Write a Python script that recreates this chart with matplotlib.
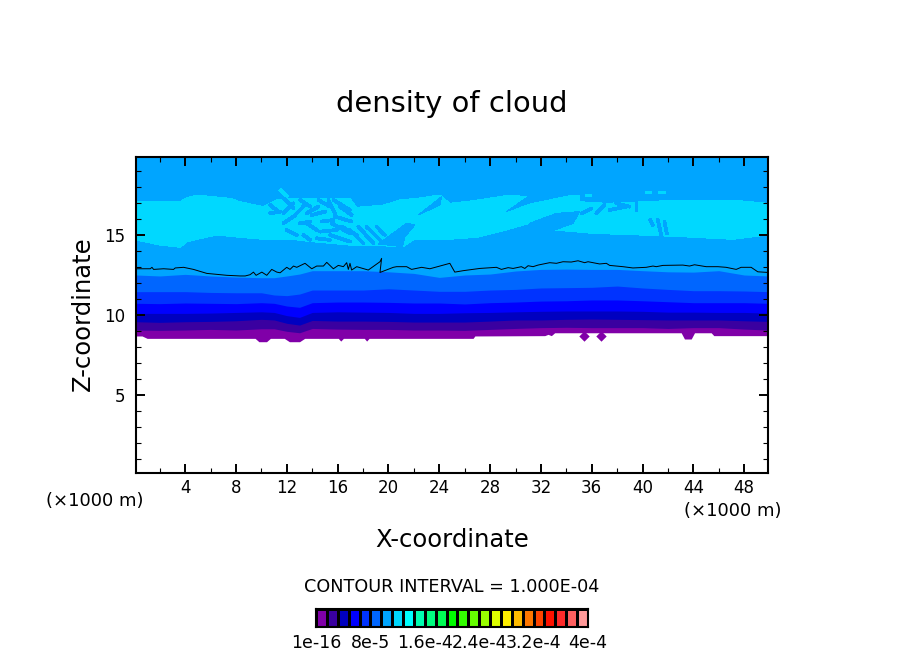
import matplotlib
matplotlib.use('Agg')
import matplotlib.pyplot as plt
from matplotlib.colors import ListedColormap

# stations for the band tops (km)
band_x = [0.125, 2, 4, 6, 8, 10, 11, 12, 13, 14, 16, 18, 20, 22, 24, 26, 28, 30, 32, 34, 36, 38, 40, 42, 44, 46, 48, 49.875]

top_purple = [9.06, 9.04, 9.06, 9.10, 9.06, 9.14, 9.14, 8.98, 8.89, 9.16, 9.12, 9.10, 9.10, 9.06,
              9.06, 9.04, 9.10, 9.16, 9.21, 9.23, 9.21, 9.21, 9.21, 9.16, 9.21, 9.21, 9.12, 9.06]
top_violet = [9.58, 9.54, 9.58, 9.60, 9.64, 9.73, 9.69, 9.48, 9.37, 9.66, 9.62, 9.62, 9.60, 9.56,
              9.56, 9.56, 9.62, 9.69, 9.69, 9.73, 9.75, 9.73, 9.71, 9.69, 9.69, 9.69, 9.64, 9.60]
top_navy = [10.10, 10.10, 10.10, 10.12, 10.16, 10.20, 10.16, 9.96, 9.85, 10.16, 10.20, 10.18, 10.16, 10.10,
            10.10, 10.14, 10.16, 10.20, 10.23, 10.25, 10.25, 10.25, 10.23, 10.18, 10.18, 10.16, 10.16, 10.12]
top_blue = [10.73, 10.71, 10.75, 10.73, 10.71, 10.77, 10.73, 10.56, 10.48, 10.77, 10.81, 10.81, 10.79, 10.75,
            10.75, 10.69, 10.77, 10.81, 10.87, 10.89, 10.94, 10.94, 10.89, 10.83, 10.77, 10.77, 10.77, 10.73]
top_blue2 = [11.46, 11.46, 11.46, 11.41, 11.39, 11.39, 11.25, 11.21, 11.31, 11.56, 11.56, 11.56, 11.64, 11.56,
             11.48, 11.48, 11.56, 11.60, 11.69, 11.71, 11.73, 11.81, 11.69, 11.60, 11.52, 11.52, 11.50, 11.46]
top_blue3 = [12.50, 12.44, 12.54, 12.44, 12.37, 12.33, 12.33, 12.44, 12.56, 12.77, 12.77, 12.77, 12.70, 12.60,
             12.35, 12.50, 12.56, 12.75, 12.85, 12.87, 12.85, 12.85, 12.77, 12.70, 12.68, 12.77, 12.50, 12.44]

# lower edge of the cloud (white below)
base_x = [0.125, 0.6, 1.0, 9.5, 9.8, 10.4, 10.7, 11.8, 12.2, 13.0, 13.4, 16.05, 16.24, 16.45, 18.10, 18.28, 18.47,
          26.66, 26.8, 32.30, 32.56, 32.82, 33.08, 43.04, 43.30, 43.83, 44.09, 45.40, 45.61, 49.875]
base_z = [8.69, 8.69, 8.54, 8.54, 8.33, 8.33, 8.54, 8.54, 8.33, 8.33, 8.54, 8.54, 8.37, 8.54, 8.54, 8.37, 8.54,
          8.54, 8.69, 8.71, 8.79, 8.71, 8.89, 8.89, 8.50, 8.50, 8.89, 8.89, 8.71, 8.71]
blob_x = [35.36, 36.75]
blob_z = [8.70, 8.70]

# cyan layer edges
cyan_top_x = [0.125, 3.61, 4.0, 4.92, 7.54, 8.32, 10.16, 11.21, 12.25, 16.97, 17.50, 19.59, 20.90, 22.21, 24.05,
              24.83, 26.66, 29.55, 30.86, 31.38, 34.53, 35.05, 35.06, 37.15, 42.91, 47.10, 49.875]
cyan_top_z = [17.08, 17.08, 17.29, 17.50, 17.29, 17.08, 16.77, 17.19, 17.29, 17.29, 16.73, 16.87, 17.19, 17.29, 17.50,
              16.98, 17.14, 17.50, 17.39, 16.98, 17.50, 17.50, 17.08, 16.98, 17.18, 17.18, 16.98]
cyan_bot_x = [0.125, 2.0, 3.61, 4.13, 6.49, 8.32, 10.16, 12.78, 13.96, 15.40, 17.50, 19.33, 21.16, 21.95, 24.05,
              26.93, 29.28, 31.12, 32.5, 33.08, 36.10, 39.77, 42.91, 47.10, 49.875]
cyan_bot_z = [14.69, 14.37, 14.23, 14.58, 15.0, 14.85, 14.73, 14.69, 14.58, 14.48, 14.33, 14.33, 14.27, 14.69, 14.69,
              14.85, 15.31, 15.73, 15.45, 15.31, 15.10, 15.0, 14.90, 14.73, 15.0]

# sky coloured gaps in the cyan layer
gap_polys = [
    ([31.12, 33.21, 35.05, 34.52, 33.08], [15.73, 16.35, 16.46, 15.73, 15.31]),
    ([29.28, 30.91, 31.64, 30.59], [16.46, 17.35, 17.14, 16.87]),
    ([19.20, 21.43, 22.08, 21.30, 21.11], [14.44, 15.73, 15.63, 14.90, 14.27]),
    ([22.34, 24.18, 24.05], [16.25, 17.39, 16.87]),
]
gap_x0 = [11.73, 12.52, 13.56, 10.68, 11.73, 13.04, 13.96, 14.74, 15.53, 15.79, 16.19, 15.66, 16.97, 17.63, 18.28, 19.07,
          14.61, 15.40, 13.30, 10.68, 35.18, 36.36, 37.40, 37.93, 39.50, 41.20, 41.73, 40.60,
          11.73, 13.04, 14.48, 15.27, 13.56, 11.99, 14.35, 16.32]
gap_z0 = [16.36, 16.15, 16.36, 16.36, 15.73, 15.73, 16.25, 15.84, 15.73, 16.15, 16.77, 17.19, 15.31, 15.52, 15.52, 15.52,
          15.21, 15.0, 15.0, 16.88, 16.35, 16.35, 16.56, 16.98, 17.19, 15.94, 15.83, 15.94,
          17.29, 17.19, 17.19, 17.19, 15.73, 15.31, 14.79, 15.52]
gap_x1 = [12.52, 13.43, 14.48, 11.47, 12.52, 13.83, 15.01, 15.66, 16.97, 17.10, 17.10, 16.97, 18.02, 18.81, 19.33, 19.72,
          15.92, 16.97, 13.83, 11.34, 35.96, 37.01, 38.71, 38.98, 39.50, 41.47, 41.91, 40.81,
          12.52, 13.83, 15.40, 15.79, 14.35, 12.78, 15.40, 17.50]
gap_z1 = [16.98, 16.88, 16.77, 16.46, 16.15, 15.84, 16.46, 15.94, 15.11, 15.84, 16.25, 16.56, 14.48, 14.48, 14.69, 15.0,
          15.31, 14.59, 14.69, 16.46, 16.66, 16.87, 16.77, 16.77, 16.56, 15.0, 15.10, 15.62,
          16.67, 16.77, 16.77, 16.36, 15.31, 15.0, 14.69, 15.0]

# stray cyan bits above the layer
bit_x0 = [11.52, 35.57, 40.24, 41.26]
bit_z0 = [17.81, 17.50, 17.66, 17.66]
bit_x1 = [11.99, 35.88, 40.60, 41.65]
bit_z1 = [17.44, 17.50, 17.66, 17.66]

# the single black contour
line_x = [0.125, 1.25, 1.38, 1.51, 2.30, 3.08, 3.21, 3.87, 4.65, 5.70, 7.28, 8.32, 8.72, 9.11, 9.37, 9.58, 10.03, 10.42,
          10.81, 11.21, 11.47, 11.99, 12.25, 12.52, 12.78, 13.43, 13.96, 14.35, 14.88, 15.14, 15.66, 16.05, 16.45, 16.71,
          16.84, 16.97, 17.10, 17.50, 18.41, 19.33, 19.46, 19.33, 20.38, 20.64, 21.43, 21.82, 22.61, 23.26, 24.05, 24.83,
          25.22, 25.88, 27.19, 28.50, 28.89, 29.42, 29.81, 30.46, 30.73, 30.99, 31.38, 31.77, 32.69, 33.22, 33.74, 34.39,
          34.92, 35.44, 35.71, 36.62, 37.15, 37.41, 38.46, 39.24, 40.29, 40.82, 41.08, 41.60, 43.17, 43.70, 44.09, 45.01,
          45.93, 46.58, 47.37, 47.76, 48.55, 49.07, 49.875]
line_z = [12.89, 12.89, 12.98, 12.85, 12.89, 12.85, 12.94, 12.98, 12.85, 12.60, 12.48, 12.44, 12.44, 12.52, 12.68, 12.48,
          12.68, 12.48, 12.85, 12.68, 12.64, 12.98, 12.85, 13.06, 12.98, 13.23, 12.89, 13.06, 13.06, 13.29, 12.89, 13.10,
          13.02, 13.27, 12.85, 13.23, 12.81, 13.02, 12.81, 13.33, 13.54, 12.66, 12.98, 13.02, 13.02, 12.85, 12.98, 12.89,
          13.06, 13.23, 12.68, 12.77, 12.91, 12.98, 12.85, 12.96, 12.91, 13.02, 12.91, 13.08, 13.02, 13.12, 13.27, 13.23,
          13.33, 13.31, 13.39, 13.27, 13.33, 13.19, 13.23, 13.10, 13.02, 12.94, 12.98, 13.06, 13.02, 13.10, 13.12, 13.06,
          13.14, 13.02, 13.02, 12.98, 12.85, 12.98, 12.98, 12.70, 12.66]

bar_colors = ['#8000a8', '#3a00a0', '#0000c0', '#0000ff', '#0033ff', '#0066ff', '#00a5ff', '#00d8ff', '#00ffff',
              '#00ffb0', '#00ff80', '#00ff55', '#00ff00', '#33ff00', '#66ff00', '#99ff00', '#ddff00', '#ffee00',
              '#ffbb00', '#ff7700', '#ff4400', '#ff1100', '#ff2a2a', '#ff6060', '#ff9999']
bar_values = [0, 8e-5, 1.6e-4, 2.4e-4, 3.2e-4, 4e-4]
bar_labels = ['1e-16', '8e-5', '1.6e-4', '2.4e-4', '3.2e-4', '4e-4']

W, H = 904, 654
fig = plt.figure(figsize=(W / 100, H / 100), dpi=100)
ax = fig.add_axes([136 / W, 1 - 473 / H, 632 / W, 316 / H])

sky, cyan = bar_colors[6], bar_colors[7]

# paint from the top down
ax.axhspan(12, 19.875, color=sky, lw=0)
ax.fill(cyan_top_x + cyan_bot_x[::-1], cyan_top_z + cyan_bot_z[::-1], color=cyan, lw=0, antialiased=False)
for px, pz in gap_polys:
    ax.fill(px, pz, color=sky, lw=0, antialiased=False)
for i in range(len(gap_x0)):
    ax.plot([gap_x0[i], gap_x1[i]], [gap_z0[i], gap_z1[i]], color=sky, lw=2.0,
            solid_capstyle='round', antialiased=False)
for i in range(len(bit_x0)):
    ax.plot([bit_x0[i], bit_x1[i]], [bit_z0[i], bit_z1[i]], color=cyan, lw=1.8, antialiased=False)

tops = [top_blue3, top_blue2, top_blue, top_navy, top_violet, top_purple]
cols = [bar_colors[5], bar_colors[4], bar_colors[3], bar_colors[2], bar_colors[1], bar_colors[0]]
for t, c in zip(tops, cols):
    ax.fill_between(band_x, 8, t, color=c, lw=0, antialiased=False)
ax.fill_between(base_x, 0.125, base_z, color='white', lw=0, antialiased=False)
ax.scatter(blob_x, blob_z, marker='D', s=28, color=bar_colors[0], lw=0)

ax.plot(line_x, line_z, color='black', lw=0.7)

ax.set_xlim(0.125, 49.875)
ax.set_ylim(0.125, 19.875)
ax.set_xticks(range(4, 49, 4))
ax.set_xticks(range(2, 50, 4), minor=True)
ax.set_yticks([5, 10, 15])
ax.set_yticks([i for i in range(1, 20) if i % 5], minor=True)
ax.tick_params(which='major', direction='in', top=True, right=True, length=6.5, width=1.4, labelsize=12)
ax.tick_params(axis='x', which='major', pad=4)
ax.tick_params(axis='y', which='major', pad=8)
ax.tick_params(which='minor', direction='in', top=True, right=True, length=3.6, width=0.8)
for s in ax.spines.values():
    s.set_linewidth(1.5)
ax.set_axisbelow(False)

def label(px, py, s, size, **kw):
    fig.text(px / W, 1 - py / H, s, fontsize=size, ha='center', va='center', **kw)

label(452, 104, 'density of cloud', 20.9)
label(452, 540, 'X-coordinate', 17.5)
label(83, 314, 'Z-coordinate', 17.5, rotation=90)
label(95, 501, '(×1000 m)', 13)
label(733, 511, '(×1000 m)', 13)
label(452, 587, 'CONTOUR INTERVAL = 1.000E-04', 12.7)

# colour bar
cax = fig.add_axes([316 / W, 1 - 627 / H, 272 / W, 18 / H])
cmap = ListedColormap(bar_colors)
levels = [i * 4e-4 / 25 for i in range(26)]
cax.pcolormesh(levels, [0, 1], [[i for i in range(25)]], cmap=cmap, edgecolors='black', linewidth=0.9)
cax.set_xlim(0, 4e-4)
cax.set_yticks([])
cax.set_xticks(bar_values)
cax.set_xticklabels(bar_labels, fontsize=12.5)
cax.tick_params(length=0, pad=5)
for s in cax.spines.values():
    s.set_linewidth(1.5)

fig.savefig('out.png', dpi=100)
